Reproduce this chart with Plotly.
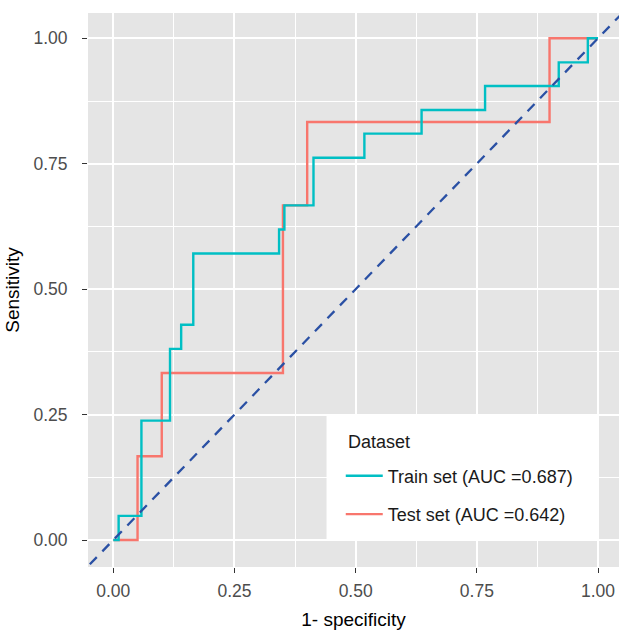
import plotly.graph_objects as go

# ROC corner points (1 - specificity, sensitivity), drawn as horizontal-then-vertical steps
train_fpr = [0.0, 0.011, 0.058, 0.117, 0.140, 0.165, 0.342, 0.353, 0.413, 0.518, 0.636, 0.767, 0.919, 0.979, 1.0]
train_tpr = [0.0, 0.048, 0.238, 0.381, 0.429, 0.571, 0.619, 0.667, 0.762, 0.810, 0.857, 0.905, 0.952, 1.0, 1.0]
test_fpr = [0.0, 0.05, 0.10, 0.35, 0.40, 0.90, 1.0]
test_tpr = [0.0, 0.167, 0.333, 0.667, 0.833, 1.0, 1.0]

train_name = "Train set (AUC =0.687)"
test_name = "Test set (AUC =0.642)"
legend_title = "Dataset"

ref_line = [-0.1, 1.1]  # y = x reference line extent

tick_vals = [0, 0.25, 0.5, 0.75, 1.0]
tick_text = ["0.00", "0.25", "0.50", "0.75", "1.00"]
minor_vals = [0.125, 0.375, 0.625, 0.875]

FONT = "Liberation Sans"
TEAL = "#00BFC4"
RED = "#F8766D"

fig = go.Figure()
fig.add_trace(go.Scatter(x=test_fpr, y=test_tpr, mode="lines", line_shape="hv",
                         line=dict(color=RED, width=2.4), name=test_name,
                         legendgroup="test", legendrank=2))
fig.add_trace(go.Scatter(x=train_fpr, y=train_tpr, mode="lines", line_shape="hv",
                         line=dict(color=TEAL, width=2.4), name=train_name,
                         legendgroup="train", legendrank=1))
fig.add_trace(go.Scatter(x=ref_line, y=ref_line, mode="lines",
                         line=dict(color="#2A50A4", width=2.3, dash="10px,8px"),
                         showlegend=False, hoverinfo="skip"))

axis_common = dict(
    tickvals=tick_vals, ticktext=tick_text, showgrid=True, gridcolor="white", gridwidth=2.2,
    zeroline=False, showline=False, ticks="outside", ticklen=5, tickwidth=1.2, tickcolor="#333333",
    tickfont=dict(family=FONT, size=17.5, color="#4D4D4D"), automargin=False,
    minor=dict(tickvals=minor_vals, showgrid=True, gridcolor="white", gridwidth=1, ticks=""),
)

fig.update_layout(
    width=619, height=631,
    margin=dict(l=88, r=0, t=13, b=64),
    paper_bgcolor="white", plot_bgcolor="#E5E5E5",
    font=dict(family=FONT, color="black"),
    xaxis=dict(range=[-0.0522, 1.0433], ticklabelstandoff=3,
               title=dict(text="1- specificity", font=dict(family=FONT, size=19, color="black"), standoff=12),
               **axis_common),
    yaxis=dict(range=[-0.0538, 1.0504], ticklabelstandoff=11,
               title=dict(text="Sensitivity", font=dict(family=FONT, size=19, color="black"), standoff=8),
               **axis_common),
    showlegend=True,
    legend=dict(x=0.476, y=0.1976, xanchor="left", yanchor="top", bgcolor="rgba(0,0,0,0)",
                font=dict(family=FONT, size=18, color="#1A1A1A"),
                tracegroupgap=12, itemwidth=37, traceorder="grouped"),
    shapes=[dict(type="rect", xref="paper", yref="paper", x0=0.4492, x1=0.9591, y0=0.0475, y1=0.2763,
                 fillcolor="white", line=dict(width=0), layer="above")],
    annotations=[dict(text=legend_title, xref="paper", yref="paper", x=0.4859, y=0.2262,
                      xanchor="left", yanchor="middle", showarrow=False,
                      font=dict(family=FONT, size=18, color="#1A1A1A"))],
)

fig.write_html("out.html", config={"displayModeBar": False},
               post_script="document.body.style.margin='0';document.body.style.overflow='hidden';")
